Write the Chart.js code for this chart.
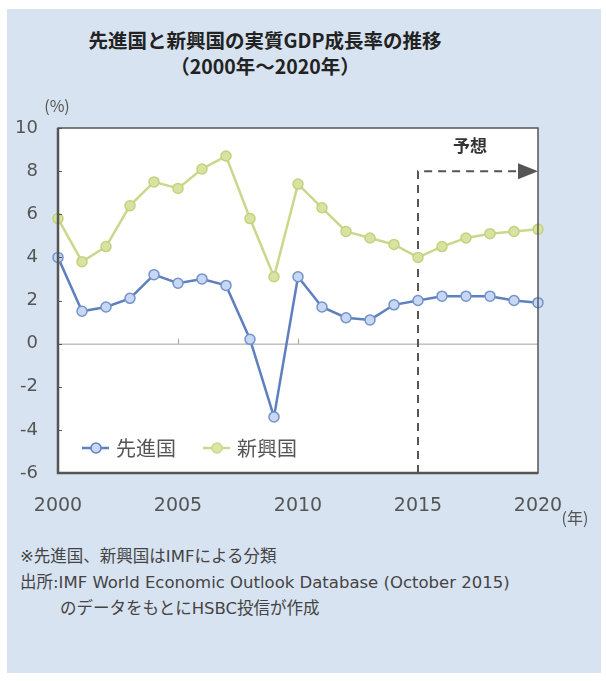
<!DOCTYPE html>
<html lang="ja">
<head>
<meta charset="utf-8">
<script src="https://cdn.jsdelivr.net/npm/chart.js@4.4.1/dist/chart.umd.min.js"></script>
<style>
  html, body { margin: 0; padding: 0; background: #fff; }
  body { width: 606px; height: 681px; position: relative; overflow: hidden;
         font-family: 'Noto Sans CJK JP', 'Noto Sans', sans-serif; }
  #panel { position: absolute; left: 7px; top: 9px; width: 594px; height: 664px; background: #d7e3f1; }
  #title { position: absolute; left: 65px; width: 400px; top: 27px; text-align: center;
           font-size: 19.5px; font-weight: bold; color: #222; line-height: 26px; }
  #notes { position: absolute; left: 20px; top: 544px; font-size: 16.5px; color: #444; line-height: 26px;
           font-family: 'DejaVu Sans', 'Noto Sans CJK JP', sans-serif; }
  #notes .indent { padding-left: 40px; }
  #wrap { position: absolute; left: 0; top: 0; width: 606px; height: 681px; }
</style>
</head>
<body>
<div id="panel"></div>
<div id="title">先進国と新興国の実質GDP成長率の推移<br>（2000年～2020年）</div>
<div id="notes">
  <div>※先進国、新興国はIMFによる分類</div>
  <div>出所:IMF World Economic Outlook Database (October 2015)</div>
  <div class="indent">のデータをもとにHSBC投信が作成</div>
</div>
<div id="wrap"><canvas id="chart"></canvas></div>
<script>
const years = ['2000','2001','2002','2003','2004','2005','2006','2007','2008','2009','2010',
               '2011','2012','2013','2014','2015','2016','2017','2018','2019','2020'];
const advanced = [4.0, 1.5, 1.7, 2.1, 3.2, 2.8, 3.0, 2.7, 0.2, -3.4, 3.1,
                  1.7, 1.2, 1.1, 1.8, 2.0, 2.2, 2.2, 2.2, 2.0, 1.9];
const emerging = [5.8, 3.8, 4.5, 6.4, 7.5, 7.2, 8.1, 8.7, 5.8, 3.1, 7.4,
                  6.3, 5.2, 4.9, 4.6, 4.0, 4.5, 4.9, 5.1, 5.2, 5.3];
const xTickLabels = ['2000', '2005', '2010', '2015', '2020'];
const yTicks = [-6, -4, -2, 0, 2, 4, 6, 8, 10];
const forecastStart = '2015';
const forecastLevel = 8;

const FONT = "'Noto Sans CJK JP', 'Noto Sans', sans-serif";
const NUM_FONT = "'DejaVu Sans', 'Noto Sans', sans-serif";
const BLUE = '#5e80bf';
const GREEN = '#c9d88b';

// white plot area, frame, zero line, forecast marker, legend
const decor = {
  id: 'decor',
  beforeDraw(chart) {
    const { ctx, chartArea: a } = chart;
    ctx.save();
    ctx.fillStyle = '#ffffff';
    ctx.fillRect(a.left, a.top, a.right - a.left, a.bottom - a.top);
    ctx.restore();
  },
  beforeDatasetsDraw(chart) {
    const { ctx, chartArea: a, scales: { x, y } } = chart;
    ctx.save();
    // zero line
    const y0 = y.getPixelForValue(0);
    ctx.strokeStyle = '#a0a0a0';
    ctx.lineWidth = 1;
    ctx.beginPath();
    ctx.moveTo(a.left, y0 + 0.5);
    ctx.lineTo(a.right, y0 + 0.5);
    ctx.stroke();
    // small ticks on the zero line
    ['2005', '2010'].forEach(t => {
      const px = Math.round(x.getPixelForValue(years.indexOf(t))) + 0.5;
      ctx.beginPath();
      ctx.moveTo(px, y0);
      ctx.lineTo(px, y0 - 5);
      ctx.stroke();
    });
    // forecast dashed line
    const fx = x.getPixelForValue(years.indexOf(forecastStart));
    const fy = y.getPixelForValue(forecastLevel);
    ctx.strokeStyle = '#555';
    ctx.lineWidth = 2;
    ctx.setLineDash([8, 6]);
    ctx.beginPath();
    ctx.moveTo(fx, a.bottom);
    ctx.lineTo(fx, fy);
    ctx.lineTo(a.right - 18, fy);
    ctx.stroke();
    ctx.setLineDash([]);
    ctx.fillStyle = '#555';
    ctx.beginPath();
    ctx.moveTo(a.right - 20, fy - 8);
    ctx.lineTo(a.right, fy);
    ctx.lineTo(a.right - 20, fy + 8);
    ctx.closePath();
    ctx.fill();
    ctx.font = 'bold 17px ' + FONT;
    ctx.fillStyle = '#333';
    ctx.textAlign = 'center';
    ctx.textBaseline = 'middle';
    ctx.fillText('予想', (fx + a.right) / 2 - 8, fy - 26);
    ctx.restore();
  },
  afterDraw(chart) {
    const { ctx, chartArea: a, scales: { y } } = chart;
    ctx.save();
    // frame
    ctx.strokeStyle = '#555';
    ctx.lineWidth = 1.5;
    ctx.strokeRect(a.left, a.top, a.right - a.left, a.bottom - a.top);
    ctx.lineWidth = 2.5;
    ctx.beginPath();
    ctx.moveTo(a.left, a.top);
    ctx.lineTo(a.left, a.bottom);
    ctx.lineTo(a.right, a.bottom);
    ctx.stroke();
    // small y ticks inside
    ctx.lineWidth = 1;
    yTicks.forEach(v => {
      const py = Math.round(y.getPixelForValue(v)) + 0.5;
      ctx.beginPath();
      ctx.moveTo(a.left, py);
      ctx.lineTo(a.left + 4, py);
      ctx.stroke();
    });
    // unit labels
    ctx.fillStyle = '#555';
    ctx.font = '16px ' + FONT;
    ctx.textAlign = 'center';
    ctx.textBaseline = 'middle';
    ctx.fillText('(%)', 57, 106);
    ctx.fillText('(年)', 575, 518);
    // legend inside plot
    const ly = 448;
    const items = [
      { label: '先進国', color: BLUE, fill: '#c8d8f2', x: 82 },
      { label: '新興国', color: GREEN, fill: '#dbe5a6', x: 203 }
    ];
    ctx.font = '20px ' + FONT;
    ctx.textAlign = 'left';
    items.forEach(it => {
      ctx.strokeStyle = it.color;
      ctx.lineWidth = 2.5;
      ctx.beginPath();
      ctx.moveTo(it.x, ly);
      ctx.lineTo(it.x + 27, ly);
      ctx.stroke();
      ctx.beginPath();
      ctx.arc(it.x + 14, ly, 5, 0, Math.PI * 2);
      ctx.fillStyle = it.fill;
      ctx.fill();
      ctx.lineWidth = 1.5;
      ctx.stroke();
      ctx.fillStyle = '#555';
      ctx.fillText(it.label, it.x + 34, ly);
    });
    ctx.restore();
  }
};

new Chart(document.getElementById('chart'), {
  type: 'line',
  data: {
    labels: years,
    datasets: [
      {
        label: '新興国',
        data: emerging,
        borderColor: GREEN,
        borderWidth: 2.5,
        pointRadius: 5,
        pointBackgroundColor: '#d8e3a2',
        pointBorderColor: '#c3d27e',
        pointBorderWidth: 1.5,
        tension: 0
      },
      {
        label: '先進国',
        data: advanced,
        borderColor: BLUE,
        borderWidth: 2.5,
        pointRadius: 5,
        pointBackgroundColor: '#c8d8f2',
        pointBorderColor: '#7393cc',
        pointBorderWidth: 1.5,
        tension: 0
      }
    ]
  },
  options: {
    responsive: true,
    maintainAspectRatio: false,
    animation: false,
    layout: { padding: { left: 0, top: 128, right: 68, bottom: 168 } },
    plugins: {
      legend: { display: false },
      title: { display: false },
      tooltip: { enabled: false }
    },
    scales: {
      x: {
        offset: false,
        grid: { display: false },
        border: { display: false },
        afterFit: s => { s.height = 40; },
        ticks: {
          autoSkip: false,
          maxRotation: 0,
          color: '#555',
          padding: 14,
          font: { family: NUM_FONT, size: 19 },
          callback: (v, i) => xTickLabels.includes(years[i]) ? years[i] : ''
        }
      },
      y: {
        min: -6,
        max: 10,
        grid: { display: false },
        border: { display: false },
        afterFit: s => { s.width = 58; },
        afterBuildTicks: s => { s.ticks = yTicks.map(v => ({ value: v })); },
        ticks: {
          color: '#555',
          padding: 12,
          font: { family: NUM_FONT, size: 18 }
        }
      }
    }
  },
  plugins: [decor]
});
</script>
</body>
</html>
